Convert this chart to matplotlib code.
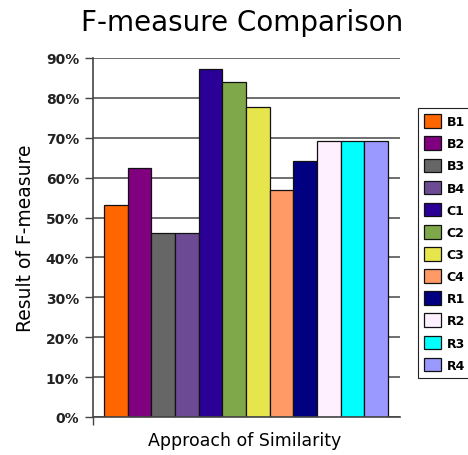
import matplotlib.pyplot as plt
from matplotlib.ticker import PercentFormatter

# approaches and their F-measure (fractions)
labels = ['B1', 'B2', 'B3', 'B4', 'C1', 'C2', 'C3', 'C4', 'R1', 'R2', 'R3', 'R4']
fmeasure = [0.532, 0.624, 0.462, 0.462, 0.872, 0.840, 0.776, 0.570, 0.641, 0.691, 0.691, 0.691]
colors = ['#FF6600', '#800080', '#666666', '#6D4A94', '#2A0096', '#7FA84A',
          '#E6E64C', '#FF9966', '#000080', '#FFF0FF', '#00FFFF', '#9999FF']
yticks = [0.0, 0.1, 0.2, 0.3, 0.4, 0.5, 0.6, 0.7, 0.8, 0.9]

fig = plt.figure(figsize=(4.68, 4.56), dpi=100)
ax = fig.add_axes([93 / 468, 38 / 456, 307 / 468, 359 / 456])

# grid behind bars
ax.set_axisbelow(True)
ax.yaxis.grid(True, color='#555555', linewidth=1.2)

for i, (lab, val, col) in enumerate(zip(labels, fmeasure, colors)):
    ax.bar(i, val, width=1.0, color=col, edgecolor='#111111', linewidth=0.9, label=lab)

ax.set_ylim(0, 0.9)
ax.set_xlim(-0.97, 12.0)
ax.set_yticks(yticks)
ax.yaxis.set_major_formatter(PercentFormatter(1.0, decimals=0))
ax.set_xticks([-0.97])
ax.set_xticklabels([''])
ax.tick_params(axis='both', direction='out', length=6, width=1, color='#444444')
ax.tick_params(axis='y', pad=4)
for t in ax.get_yticklabels():
    t.set_fontsize(10)
    t.set_fontweight('bold')
    t.set_color('#222222')

for s in ['top', 'right']:
    ax.spines[s].set_visible(False)
for s in ['left', 'bottom']:
    ax.spines[s].set_color('#444444')
    ax.spines[s].set_linewidth(1.2)

ax.set_ylabel('Result of F-measure', fontsize=13.5)
ax.yaxis.set_label_coords(-0.19, 0.5)
ax.set_xlabel('Approach of Similarity', fontsize=12.5, va='center')
ax.xaxis.set_label_coords(0.495, -0.064)
fig.text(242 / 468, 1 - 23 / 456, 'F-measure Comparison', fontsize=20,
         ha='center', va='center')

leg = ax.legend(loc='upper left', bbox_to_anchor=(418 / 468, 1 - 109 / 456),
                bbox_transform=fig.transFigure,
                prop={'weight': 'bold', 'size': 9},
                handlelength=1.3, handleheight=1.3, labelspacing=0.65,
                handletextpad=0.5, borderpad=0.5, borderaxespad=0,
                fancybox=False, framealpha=1, edgecolor='#222222')
leg.get_frame().set_linewidth(0.8)

fig.savefig('out.png', dpi=100)
